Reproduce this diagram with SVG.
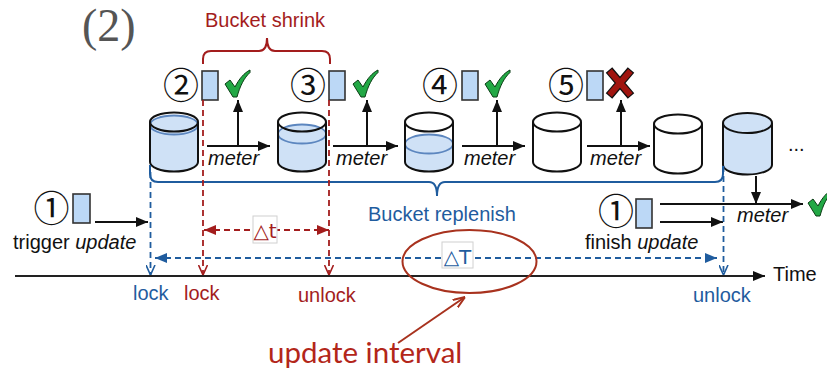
<svg xmlns="http://www.w3.org/2000/svg" width="827" height="371" viewBox="0 0 827 371">
  <style>
    .lbl { font-family: "Liberation Sans", Arial, sans-serif; font-size: 20px; }
    .it { font-style: italic; }
    .num { font-family: "Noto Sans CJK JP", "DejaVu Sans", sans-serif; font-size: 36px; fill: #111; text-anchor: middle; }
    .pkt { fill: #bcd8f6; stroke: #333; stroke-width: 1.6; }
    .body { stroke: #111; stroke-width: 2; fill: none; }
    .empty { fill: #fff; }
    .full { fill: #cfe1f6; }
    .water { fill: #cfe1f6; }
    .surf { fill: #cfe1f6; stroke: #5c86bf; stroke-width: 1.8; }
    .arr { stroke: #111; stroke-width: 2; fill: none; }
    .red { fill: #a31d1d; }
    .blue { fill: #1f5c9e; }
    .rdash { stroke: #a31d1d; stroke-width: 1.8; stroke-dasharray: 6 4; fill: none; }
    .bdash { stroke: #1f5c9e; stroke-width: 1.8; stroke-dasharray: 6 4; fill: none; }
    .ok { fill: #22a845; stroke: #0a3d14; stroke-width: 1; }
  </style>
  <defs>
    <marker id="hBlack" viewBox="0 0 12 10" refX="12" refY="5" markerWidth="12" markerHeight="10" markerUnits="userSpaceOnUse" orient="auto">
      <path d="M0,0 L12,5 L0,10 Z" fill="#111"/>
    </marker>
    <marker id="hRed" viewBox="0 0 12 10" refX="12" refY="5" markerWidth="12" markerHeight="10" markerUnits="userSpaceOnUse" orient="auto-start-reverse">
      <path d="M0,0 L12,5 L0,10 Z" fill="#a31d1d"/>
    </marker>
    <marker id="hBlue" viewBox="0 0 12 10" refX="12" refY="5" markerWidth="12" markerHeight="10" markerUnits="userSpaceOnUse" orient="auto-start-reverse">
      <path d="M0,0 L12,5 L0,10 Z" fill="#1f5c9e"/>
    </marker>
    <marker id="vRed" viewBox="0 0 10 10" refX="10" refY="5" markerWidth="10" markerHeight="10" markerUnits="userSpaceOnUse" orient="auto">
      <path d="M0,0.5 L10,5 L0,9.5" fill="none" stroke="#a31d1d" stroke-width="1.6"/>
    </marker>
    <marker id="vBlue" viewBox="0 0 10 10" refX="10" refY="5" markerWidth="10" markerHeight="10" markerUnits="userSpaceOnUse" orient="auto">
      <path d="M0,0.5 L10,5 L0,9.5" fill="none" stroke="#1f5c9e" stroke-width="1.6"/>
    </marker>
    <marker id="hRust" viewBox="0 0 12 10" refX="12" refY="5" markerWidth="12" markerHeight="10" markerUnits="userSpaceOnUse" orient="auto">
      <path d="M0,0.5 L12,5 L0,9.5" fill="none" stroke="#a8321e" stroke-width="2"/>
    </marker>
    <path id="check" d="M0,14 L5,10 L10,17 C14,9 19,3 25,0 L25,2.5 C19,8 15,16 12,27 L8,27 Z"/>
  </defs>

  <!-- panel tag -->
  <text x="82" y="41" font-family="'Liberation Serif', 'Times New Roman', serif" font-size="46" fill="#555">(2)</text>

  <!-- shrink phase brace + caption -->
  <g id="shrink">
    <text class="lbl red" x="205" y="27">Bucket shrink</text>
    <path d="M203,64 L203,59 Q203,51 211,51 L259,51 Q267,51 267,38 Q267,51 275,51 L322,51 Q330,51 330,59 L330,64" fill="none" stroke="#a31d1d" stroke-width="2"/>
  </g>

  <!-- buckets: top ellipse cy=122, bottom cy=162, rx=24, ry=9.5 -->
  <g id="bucket1">
    <path d="M150,122 L150,162 A24,9.5 0 0 0 198,162 L198,122 A24,9.5 0 0 0 150,122 Z" fill="#fff"/>
    <path class="water" d="M150,125 L150,162 A24,9.5 0 0 0 198,162 L198,125 A24,9.5 0 0 0 150,125 Z"/>
    <ellipse class="surf" cx="174" cy="125" rx="24" ry="9.5"/>
    <path class="body" d="M150,122 L150,162 A24,9.5 0 0 0 198,162 L198,122"/>
    <ellipse class="body" cx="174" cy="122" rx="24" ry="9.5"/>
  </g>
  <g id="bucket2">
    <path d="M278,122 L278,162 A24,9.5 0 0 0 326,162 L326,122 A24,9.5 0 0 0 278,122 Z" fill="#fff"/>
    <path class="water" d="M278,134 L278,162 A24,9.5 0 0 0 326,162 L326,134 A24,9.5 0 0 0 278,134 Z"/>
    <ellipse class="surf" cx="302" cy="134" rx="24" ry="9.5"/>
    <path class="body" d="M278,122 L278,162 A24,9.5 0 0 0 326,162 L326,122"/>
    <ellipse class="body" cx="302" cy="122" rx="24" ry="9.5"/>
  </g>
  <g id="bucket3">
    <path d="M405,122 L405,162 A24,9.5 0 0 0 453,162 L453,122 A24,9.5 0 0 0 405,122 Z" fill="#fff"/>
    <path class="water" d="M405,144 L405,162 A24,9.5 0 0 0 453,162 L453,144 A24,9.5 0 0 0 405,144 Z"/>
    <ellipse class="surf" cx="429" cy="144" rx="24" ry="9.5"/>
    <path class="body" d="M405,122 L405,162 A24,9.5 0 0 0 453,162 L453,122"/>
    <ellipse class="body" cx="429" cy="122" rx="24" ry="9.5"/>
  </g>
  <g id="bucket4">
    <path class="body empty" d="M533,122 L533,162 A24,9.5 0 0 0 581,162 L581,122"/>
    <ellipse class="body empty" cx="557" cy="122" rx="24" ry="9.5"/>
  </g>
  <g id="bucket5">
    <path class="body empty" d="M654,124 L654,164 A24,9.5 0 0 0 702,164 L702,124"/>
    <ellipse class="body empty" cx="678" cy="124" rx="24" ry="9.5"/>
  </g>
  <g id="bucket6">
    <path class="body full" d="M723,123 L723,165 A24.5,9.5 0 0 0 772,165 L772,123"/>
    <ellipse class="body full" cx="747.5" cy="123" rx="24.5" ry="10"/>
  </g>
  <text class="lbl" x="788" y="151" fill="#111">...</text>

  <!-- incoming packets with their order number and meter result -->
  <g id="pkt2">
    <text class="num" x="181" y="99">②</text>
    <rect class="pkt" x="202" y="71" width="16" height="29"/>
    <use href="#check" class="ok" x="225" y="70"/>
  </g>
  <g id="pkt3">
    <text class="num" x="308" y="99">③</text>
    <rect class="pkt" x="329" y="71" width="16" height="29"/>
    <use href="#check" class="ok" x="353" y="70"/>
  </g>
  <g id="pkt4">
    <text class="num" x="440" y="99">④</text>
    <rect class="pkt" x="462" y="71" width="16" height="29"/>
    <use href="#check" class="ok" x="485" y="70"/>
  </g>
  <g id="pkt5">
    <text class="num" x="566" y="99">⑤</text>
    <rect class="pkt" x="587" y="71" width="16" height="29"/>
    <g stroke-linecap="butt">
      <path d="M609,70 L631,96 M631,70 L609,96" stroke="#111" stroke-width="8.5"/>
      <path d="M609.6,71 L630.4,95 M630.4,71 L609.6,95" stroke="#a0140f" stroke-width="6"/>
    </g>
  </g>
  <g id="trigger">
    <text class="num" x="51.5" y="222">①</text>
    <rect class="pkt" x="73" y="194" width="17" height="29"/>
    <text class="lbl" x="13" y="249" fill="#111">trigger <tspan class="it">update</tspan></text>
  </g>
  <g id="finish">
    <text class="num" x="616" y="225">①</text>
    <rect class="pkt" x="636" y="199" width="16" height="29"/>
    <text class="lbl" x="585" y="249" fill="#111">finish <tspan class="it">update</tspan></text>
    <use href="#check" class="ok" x="808" y="189"/>
  </g>

  <!-- replenish brace + caption -->
  <g id="replenish">
    <path d="M150,165 L150,174 Q150,182 158,182 L429,182 Q437,182 437,196 Q437,182 445,182 L715,182 Q723,182 723,174 L723,166" fill="none" stroke="#1f5c9e" stroke-width="2"/>
    <text class="lbl blue" x="368" y="221">Bucket replenish</text>
  </g>

  <!-- time axis -->
  <g id="axis">
    <line x1="15" y1="276" x2="765" y2="276" stroke="#222" stroke-width="2" marker-end="url(#hBlack)"/>
    <text class="lbl" x="773" y="281" fill="#111">Time</text>
    <text class="lbl blue" x="133" y="300">lock</text>
    <text class="lbl red" x="184" y="300">lock</text>
    <text class="lbl red" x="298" y="302">unlock</text>
    <text class="lbl blue" x="693" y="302">unlock</text>
  </g>

  <g id="connectors">
    <!-- meter arrows between buckets -->
    <g class="arr">
      <line x1="207" y1="146" x2="270" y2="146" marker-end="url(#hBlack)"/>
      <line x1="238" y1="146" x2="238" y2="100" marker-end="url(#hBlack)"/>
      <line x1="333" y1="146" x2="398" y2="146" marker-end="url(#hBlack)"/>
      <line x1="367" y1="146" x2="367" y2="100" marker-end="url(#hBlack)"/>
      <line x1="462" y1="146" x2="525" y2="146" marker-end="url(#hBlack)"/>
      <line x1="497" y1="146" x2="497" y2="100" marker-end="url(#hBlack)"/>
      <line x1="587" y1="146" x2="650" y2="146" marker-end="url(#hBlack)"/>
      <line x1="621" y1="146" x2="621" y2="100" marker-end="url(#hBlack)"/>
      <line x1="95" y1="222" x2="148" y2="222" marker-end="url(#hBlack)"/>
      <line x1="660" y1="204" x2="803" y2="204" marker-end="url(#hBlack)"/>
      <line x1="660" y1="222" x2="723" y2="222" marker-end="url(#hBlack)"/>
      <line x1="756" y1="176" x2="756" y2="204" marker-end="url(#hBlack)"/>
    </g>
    <g class="lbl it" fill="#111" font-size="19">
      <text x="208" y="165">meter</text>
      <text x="336" y="165">meter</text>
      <text x="464" y="165">meter</text>
      <text x="590" y="165">meter</text>
      <text x="737" y="222">meter</text>
    </g>

    <!-- lock / unlock markers -->
    <line class="bdash" x1="150.5" y1="172" x2="150.5" y2="275" marker-end="url(#vBlue)"/>
    <line class="bdash" x1="723.5" y1="166" x2="723.5" y2="275" marker-end="url(#vBlue)"/>
    <line class="rdash" x1="203" y1="100" x2="203" y2="275" marker-end="url(#vRed)"/>
    <line class="rdash" x1="329" y1="100" x2="329" y2="275" marker-end="url(#vRed)"/>

    <!-- shrink window -->
    <line class="rdash" x1="204" y1="230" x2="329" y2="230" marker-start="url(#hRed)" marker-end="url(#hRed)"/>
    <!-- replenish interval -->
    <line class="bdash" x1="155" y1="258" x2="717" y2="258" marker-start="url(#hBlue)" marker-end="url(#hBlue)"/>

    <!-- update interval callout -->
    <line x1="398" y1="343" x2="465" y2="297" stroke="#a8321e" stroke-width="2" marker-end="url(#hRust)"/>
  </g>

  <g id="dt">
    <rect x="253" y="216" width="24" height="27" fill="#fff" stroke="#d0d0d0" stroke-width="1"/>
    <text x="265" y="238" text-anchor="middle" font-family="'DejaVu Sans', 'Liberation Sans', sans-serif" font-size="20" fill="#a31d1d">△t</text>
  </g>
  <g id="dT">
    <rect x="442" y="242" width="31" height="26" fill="#fff" stroke="#d0d0d0" stroke-width="1"/>
    <text x="457.5" y="264" text-anchor="middle" font-family="'DejaVu Sans', 'Liberation Sans', sans-serif" font-size="20" fill="#1f5c9e">△T</text>
  </g>

  <g id="interval">
    <ellipse cx="469.5" cy="261.5" rx="67" ry="31.5" fill="none" stroke="#a8321e" stroke-width="2"/>
    <text x="268" y="363" font-family="Lato, 'Open Sans', sans-serif" font-size="29.5" fill="#b3261a">update interval</text>
  </g>
</svg>
